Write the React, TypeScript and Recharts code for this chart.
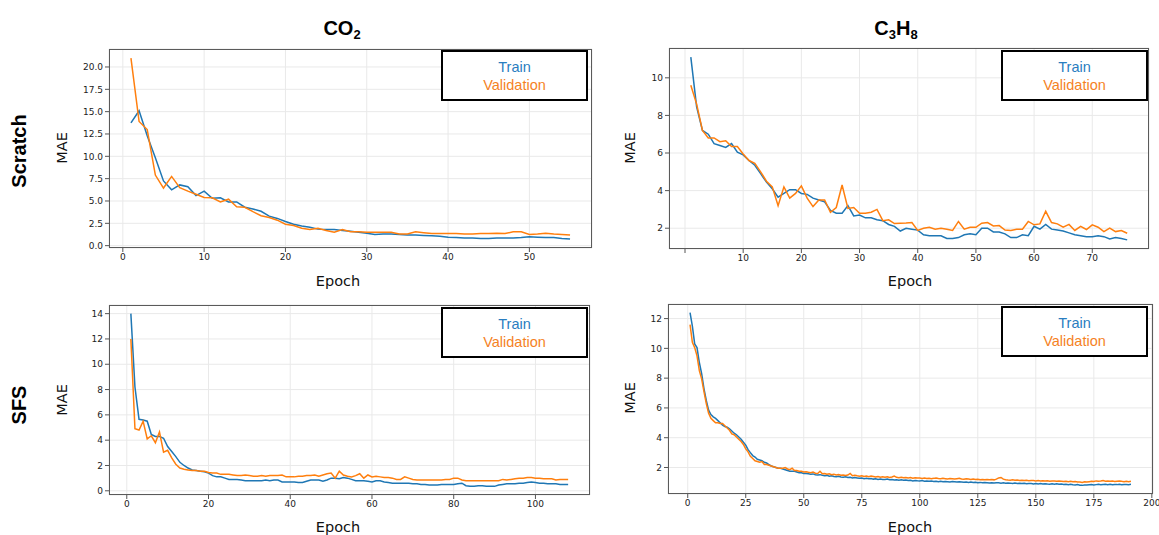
import React from 'react';
import { LineChart, Line, XAxis, YAxis, CartesianGrid } from 'recharts';

// CO2, trained from scratch
const co2ScratchTrain = [
  13.75, 15.1, 12.3, 9.85, 7.25, 6.25, 6.8, 6.6, 5.6, 6.1,
  5.3, 5.35, 4.9, 4.9, 4.3, 4.1, 3.85, 3.3, 3.05, 2.7,
  2.4, 2.2, 2.05, 1.85, 1.8, 1.8, 1.7, 1.6, 1.5, 1.4,
  1.25, 1.3, 1.3, 1.25, 1.2, 1.2, 1.15, 1.1, 1.05, 0.95,
  0.9, 0.85, 0.85, 0.8, 0.8, 0.85, 0.85, 0.85, 0.9, 1.0,
  0.95, 0.9, 0.9, 0.8, 0.75,
];
const co2ScratchVal = [
  21.0, 13.9, 13.0, 7.9, 6.45, 7.75, 6.5, 6.1, 5.75, 5.4,
  5.35, 4.9, 5.2, 4.35, 4.3, 3.8, 3.35, 3.15, 2.85, 2.4,
  2.25, 1.95, 1.8, 1.95, 1.7, 1.5, 1.8, 1.55, 1.55, 1.5,
  1.5, 1.5, 1.5, 1.3, 1.3, 1.55, 1.45, 1.35, 1.35, 1.35,
  1.35, 1.3, 1.3, 1.35, 1.35, 1.4, 1.35, 1.55, 1.55, 1.25,
  1.3, 1.4, 1.3, 1.25, 1.2,
];

// C3H8, trained from scratch
const c3h8ScratchTrain = [
  11.1, 8.45, 7.2, 7.0, 6.5, 6.4, 6.3, 6.5, 6.05, 5.9,
  5.6, 5.35, 4.9, 4.45, 4.1, 3.65, 3.85, 4.05, 4.05, 3.85,
  3.8, 3.6, 3.5, 3.4, 2.95, 2.8, 2.8, 3.2, 2.65, 2.7,
  2.55, 2.55, 2.45, 2.4, 2.2, 2.1, 1.85, 2.0, 1.95, 1.9,
  1.65, 1.6, 1.6, 1.6, 1.45, 1.45, 1.5, 1.65, 1.7, 1.65,
  2.0, 2.0, 1.8, 1.8, 1.7, 1.5, 1.5, 1.65, 1.6, 2.1,
  1.95, 2.2, 1.95, 1.9, 1.85, 1.75, 1.65, 1.6, 1.55, 1.55,
  1.6, 1.55, 1.43, 1.5, 1.45, 1.38,
];
const c3h8ScratchVal = [
  9.6, 8.6, 7.2, 6.8, 6.8, 6.6, 6.65, 6.35, 6.35, 5.95,
  5.6, 5.45, 5.0, 4.5, 4.2, 3.2, 4.2, 3.6, 3.85, 4.25,
  3.6, 3.15, 3.5, 3.5, 2.85, 3.1, 4.3, 3.05, 3.1, 2.8,
  2.8, 2.85, 3.0, 2.4, 2.45, 2.25, 2.27, 2.28, 2.3, 1.88,
  2.0, 2.05, 1.95, 2.0, 1.95, 1.88, 2.36, 1.95, 2.05, 2.05,
  2.27, 2.3, 2.12, 2.14, 1.9, 1.88, 1.95, 1.95, 2.36, 2.18,
  2.23, 2.9, 2.3, 2.23, 2.05, 2.2, 1.88, 2.1, 1.93, 2.18,
  2.05, 1.82, 2.0, 1.82, 1.88, 1.73,
];

// CO2, SFS
const co2SfsTrain = [
  14.0, 8.2, 5.65, 5.6, 5.5, 4.45, 4.3, 4.3, 4.15, 3.5,
  3.1, 2.7, 2.25, 2.0, 1.8, 1.65, 1.6, 1.55, 1.5, 1.4,
  1.2, 1.1, 1.1, 1.0, 0.9, 0.9, 0.9, 0.85, 0.8, 0.8,
  0.8, 0.8, 0.8, 0.85, 0.8, 0.85, 0.85, 0.7, 0.7, 0.7,
  0.7, 0.65, 0.65, 0.75, 0.85, 0.85, 0.85, 0.75, 0.85, 1.0,
  1.0, 0.95, 1.05, 1.0, 0.9, 0.8, 0.8, 0.8, 0.75, 0.7,
  0.8, 0.8, 0.7, 0.65, 0.6, 0.6, 0.6, 0.6, 0.6, 0.55,
  0.55, 0.5, 0.5, 0.45, 0.45, 0.45, 0.5, 0.5, 0.5, 0.5,
  0.55, 0.6, 0.4, 0.35, 0.35, 0.4, 0.4, 0.35, 0.35, 0.35,
  0.45, 0.5, 0.55, 0.55, 0.55, 0.6, 0.6, 0.65, 0.7, 0.65,
  0.6, 0.6, 0.55, 0.55, 0.55, 0.5, 0.5, 0.5,
];
const co2SfsVal = [
  12.0, 4.9, 4.8, 5.5, 4.1, 4.35, 3.8, 4.65, 3.05, 3.2,
  2.6, 2.1, 1.8, 1.7, 1.65, 1.6, 1.6, 1.55, 1.55, 1.45,
  1.4, 1.4, 1.3, 1.3, 1.3, 1.25, 1.2, 1.2, 1.25, 1.2,
  1.15, 1.15, 1.2, 1.15, 1.2, 1.2, 1.2, 1.25, 1.1, 1.1,
  1.1, 1.15, 1.15, 1.2, 1.2, 1.25, 1.15, 1.25, 1.35, 1.4,
  1.0, 1.55, 1.25, 1.15, 1.1, 1.2, 1.35, 1.0, 1.25, 1.1,
  1.15, 1.1, 1.05, 1.05, 1.0, 0.9, 0.9, 1.1, 1.0, 0.9,
  0.85, 0.85, 0.85, 0.85, 0.85, 0.85, 0.85, 0.9, 0.9, 1.0,
  1.0, 0.85, 0.8, 0.8, 0.8, 0.8, 0.8, 0.8, 0.8, 0.8,
  0.8, 0.9, 0.85, 0.9, 0.95, 1.0, 1.0, 1.05, 1.05, 1.0,
  1.0, 0.95, 0.95, 0.95, 0.85, 0.9, 0.9, 0.9,
];

// C3H8, SFS
const c3h8SfsTrain = [
  12.4, 11.5, 10.3, 10.05, 9.05, 8.3, 7.3, 6.5, 5.85, 5.55,
  5.4, 5.3, 5.15, 5.0, 4.85, 4.75, 4.7, 4.6, 4.45, 4.3,
  4.2, 4.05, 3.9, 3.7, 3.5, 3.2, 3.0, 2.8, 2.7, 2.55,
  2.5, 2.45, 2.35, 2.3, 2.2, 2.1, 2.05, 2.0, 1.95, 1.95,
  1.9, 1.85, 1.8, 1.75, 1.75, 1.75, 1.7, 1.65, 1.65, 1.6,
  1.6, 1.58, 1.55, 1.57, 1.52, 1.5, 1.52, 1.48, 1.45, 1.47,
  1.42, 1.44, 1.4, 1.38, 1.41, 1.36, 1.35, 1.37, 1.33, 1.35,
  1.3, 1.32, 1.3, 1.28, 1.3, 1.25, 1.27, 1.24, 1.26, 1.22,
  1.25, 1.2, 1.23, 1.19, 1.2, 1.22, 1.18, 1.2, 1.16, 1.18,
  1.15, 1.17, 1.14, 1.16, 1.12, 1.14, 1.1, 1.13, 1.11, 1.1,
  1.12, 1.08, 1.1, 1.07, 1.09, 1.06, 1.08, 1.05, 1.07, 1.04,
  1.06, 1.05, 1.03, 1.06, 1.04, 1.02, 1.05, 1.03, 1.01, 1.03,
  1.0, 1.02, 0.99, 1.01, 0.98, 1.0, 0.97, 0.99, 0.98, 0.96,
  0.98, 0.96, 0.98, 0.97, 0.95, 0.97, 0.94, 0.96, 0.95, 0.93,
  0.95, 0.93, 0.94, 0.92, 0.94, 0.91, 0.93, 0.92, 0.9, 0.92,
  0.9, 0.92, 0.89, 0.91, 0.89, 0.88, 0.9, 0.88, 0.9, 0.87,
  0.89, 0.86, 0.88, 0.85, 0.87, 0.84, 0.82, 0.85, 0.81, 0.8,
  0.83, 0.82, 0.84, 0.86, 0.83, 0.85, 0.87, 0.84, 0.86, 0.88,
  0.85, 0.87, 0.84, 0.86, 0.85, 0.87, 0.84, 0.86, 0.85, 0.84,
  0.87,
];
const c3h8SfsVal = [
  11.6, 10.4, 10.05, 9.5, 8.5, 7.95, 7.1, 6.3, 5.65, 5.3,
  5.15, 5.0, 5.0, 4.95, 4.95, 4.8, 4.65, 4.5, 4.25, 4.2,
  4.05, 3.9, 3.75, 3.55, 3.25, 3.05, 2.75, 2.6, 2.45, 2.4,
  2.35, 2.4, 2.2, 2.2, 2.15, 2.1, 2.05, 2.0, 1.95, 1.95,
  1.95, 2.0, 1.9, 1.85, 1.95, 1.8, 1.8, 1.75, 1.75, 1.7,
  1.72, 1.68, 1.65, 1.7, 1.62, 1.6, 1.75, 1.58, 1.6, 1.55,
  1.58, 1.52, 1.55, 1.5, 1.53, 1.48, 1.5, 1.46, 1.49, 1.6,
  1.45, 1.48, 1.44, 1.42, 1.45, 1.4, 1.43, 1.38, 1.42, 1.4,
  1.36, 1.4, 1.35, 1.38, 1.34, 1.37, 1.33, 1.36, 1.42, 1.34,
  1.32, 1.35, 1.31, 1.33, 1.3, 1.32, 1.28, 1.31, 1.29, 1.3,
  1.27, 1.3, 1.26, 1.28, 1.25, 1.27, 1.3, 1.26, 1.24, 1.27,
  1.25, 1.23, 1.26, 1.24, 1.22, 1.25, 1.28, 1.23, 1.21, 1.24,
  1.22, 1.2, 1.23, 1.19, 1.21, 1.18, 1.2, 1.17, 1.19, 1.18,
  1.2, 1.17, 1.22, 1.3, 1.33, 1.22, 1.18, 1.16, 1.15, 1.17,
  1.14, 1.16, 1.13, 1.15, 1.12, 1.14, 1.11, 1.13, 1.12, 1.1,
  1.12, 1.1, 1.11, 1.09, 1.11, 1.08, 1.1, 1.09, 1.07, 1.09,
  1.08, 1.06, 1.08, 1.05, 1.07, 1.04, 1.06, 1.03, 1.02, 1.0,
  1.04, 1.02, 1.05, 1.08, 1.06, 1.1, 1.07, 1.09, 1.12, 1.08,
  1.1, 1.07, 1.09, 1.06, 1.08, 1.1, 1.07, 1.05, 1.08, 1.04,
  1.07,
];

// tick values
const co2ScratchXTicks = [0, 10, 20, 30, 40, 50];
const co2ScratchYTicks = [0, 2.5, 5, 7.5, 10, 12.5, 15, 17.5, 20];
const c3h8ScratchXTicks = [0, 10, 20, 30, 40, 50, 60, 70];
const c3h8ScratchYTicks = [2, 4, 6, 8, 10];
const co2SfsXTicks = [0, 20, 40, 60, 80, 100];
const co2SfsYTicks = [0, 2, 4, 6, 8, 10, 12, 14];
const c3h8SfsXTicks = [0, 25, 50, 75, 100, 125, 150, 175, 200];
const c3h8SfsYTicks = [2, 4, 6, 8, 10, 12];

const TRAIN = '#1f77b4';
const VAL = '#ff7f0e';
const TICK_FONT = { fontSize: 9, fill: '#222', fontFamily: 'DejaVu Sans' };

// matplotlib-style 5% margins around the data
const padded = (a: number[], b: number[]): [number, number] => {
  const lo = Math.min(...a, ...b);
  const hi = Math.max(...a, ...b);
  const m = (hi - lo) * 0.05;
  return [lo - m, hi + m];
};

interface PanelProps {
  train: number[];
  val: number[];
  xTicks: number[];
  yTicks: number[];
  xFmt?: (v: number) => string;
  yFmt?: (v: number) => string;
  left: number;
  top: number;
  w: number;
  h: number;
  legendRight: number;
  legendTop: number;
}

const AX = 50;
const TOP = 10;
const RIGHT = 8;
const XH = 30;

const Panel = ({ train, val, xTicks, yTicks, xFmt, yFmt, left, top, w, h, legendRight, legendTop }: PanelProps) => {
  const data = train.map((t, i) => ({ epoch: i + 1, train: t, val: val[i] }));
  const epochs = data.map(d => d.epoch);
  const xDomain = padded(epochs, epochs);
  const yDomain = padded(train, val);

  return (
    <div style={{ position: 'absolute', left: left - AX, top: top - TOP }}>
      <LineChart
        width={w + AX + RIGHT}
        height={h + TOP + XH}
        data={data}
        margin={{ top: TOP, right: RIGHT, left: 0, bottom: 0 }}
      >
        <CartesianGrid stroke="#e9e9e9" />
        <XAxis
          dataKey="epoch"
          type="number"
          domain={xDomain}
          ticks={xTicks}
          interval={0}
          allowDataOverflow
          height={XH}
          axisLine={false}
          tickSize={4}
          tickLine={{ stroke: '#555' }}
          tick={TICK_FONT}
          tickFormatter={xFmt}
        />
        <YAxis
          type="number"
          domain={yDomain}
          ticks={yTicks}
          interval={0}
          allowDataOverflow
          width={AX}
          axisLine={false}
          tickSize={4}
          tickLine={{ stroke: '#555' }}
          tick={TICK_FONT}
          tickFormatter={yFmt}
        />
        <Line type="linear" dataKey="train" stroke={TRAIN} strokeWidth={1.5} dot={false} isAnimationActive={false} />
        <Line type="linear" dataKey="val" stroke={VAL} strokeWidth={1.5} dot={false} isAnimationActive={false} />
      </LineChart>
      {/* axes frame */}
      <div
        style={{
          position: 'absolute', left: AX, top: TOP, width: w, height: h,
          border: '1px solid #5a5a5a', boxSizing: 'border-box', pointerEvents: 'none',
        }}
      />
      {/* legend box */}
      <div
        style={{
          position: 'absolute', left: AX + w - legendRight - 147, top: TOP + legendTop,
          width: 147, height: 51, border: '2px solid #000', boxSizing: 'border-box',
          background: '#fff', textAlign: 'center', fontFamily: 'Liberation Sans',
          fontSize: 14.5, lineHeight: '18px', paddingTop: 6,
        }}
      >
        <div style={{ color: '#2a7dc0' }}>Train</div>
        <div style={{ color: '#f5821f' }}>Validation</div>
      </div>
    </div>
  );
};

export default function App() {
  const bold = { fontFamily: 'Liberation Sans', fontWeight: 700, fontSize: 20, fill: '#000' };
  const axLabel = { fontFamily: 'DejaVu Sans', fontSize: 14.5, fill: '#111' };
  return (
    <div style={{ position: 'absolute', left: 0, top: 0, width: 1159, height: 535, background: '#fff', overflow: 'hidden' }}>
      <Panel
        train={co2ScratchTrain} val={co2ScratchVal}
        xTicks={co2ScratchXTicks} yTicks={co2ScratchYTicks}
        yFmt={v => v.toFixed(1)}
        left={109} top={49} w={483} h={199} legendRight={4} legendTop={1}
      />
      <Panel
        train={c3h8ScratchTrain} val={c3h8ScratchVal}
        xTicks={c3h8ScratchXTicks} yTicks={c3h8ScratchYTicks}
        xFmt={v => (v === 0 ? '' : String(v))}
        left={669} top={48} w={480} h={201} legendRight={1} legendTop={2}
      />
      <Panel
        train={co2SfsTrain} val={co2SfsVal}
        xTicks={co2SfsXTicks} yTicks={co2SfsYTicks}
        left={109} top={305} w={481} h={190} legendRight={2} legendTop={2}
      />
      <Panel
        train={c3h8SfsTrain} val={c3h8SfsVal}
        xTicks={c3h8SfsXTicks} yTicks={c3h8SfsYTicks}
        left={668} top={304} w={485} h={190} legendRight={5} legendTop={2}
      />
      <svg width={1159} height={535} style={{ position: 'absolute', left: 0, top: 0, pointerEvents: 'none' }}>
        <text x={342} y={35} textAnchor="middle" {...bold}>
          CO<tspan fontSize={13} dy={4}>2</tspan>
        </text>
        <text x={896} y={35} textAnchor="middle" {...bold}>
          C<tspan fontSize={13} dy={4}>3</tspan><tspan dy={-4}>H</tspan><tspan fontSize={13} dy={4}>8</tspan>
        </text>
        <text transform="translate(26,151) rotate(-90)" textAnchor="middle" {...bold}>Scratch</text>
        <text transform="translate(26,405) rotate(-90)" textAnchor="middle" {...bold}>SFS</text>

        <text transform="translate(67,148) rotate(-90)" textAnchor="middle" {...axLabel}>MAE</text>
        <text transform="translate(635,148) rotate(-90)" textAnchor="middle" {...axLabel}>MAE</text>
        <text transform="translate(67,400) rotate(-90)" textAnchor="middle" {...axLabel}>MAE</text>
        <text transform="translate(635,398) rotate(-90)" textAnchor="middle" {...axLabel}>MAE</text>

        <text x={338} y={286} textAnchor="middle" {...axLabel}>Epoch</text>
        <text x={910} y={286} textAnchor="middle" {...axLabel}>Epoch</text>
        <text x={338} y={532} textAnchor="middle" {...axLabel}>Epoch</text>
        <text x={910} y={532} textAnchor="middle" {...axLabel}>Epoch</text>
      </svg>
    </div>
  );
}
